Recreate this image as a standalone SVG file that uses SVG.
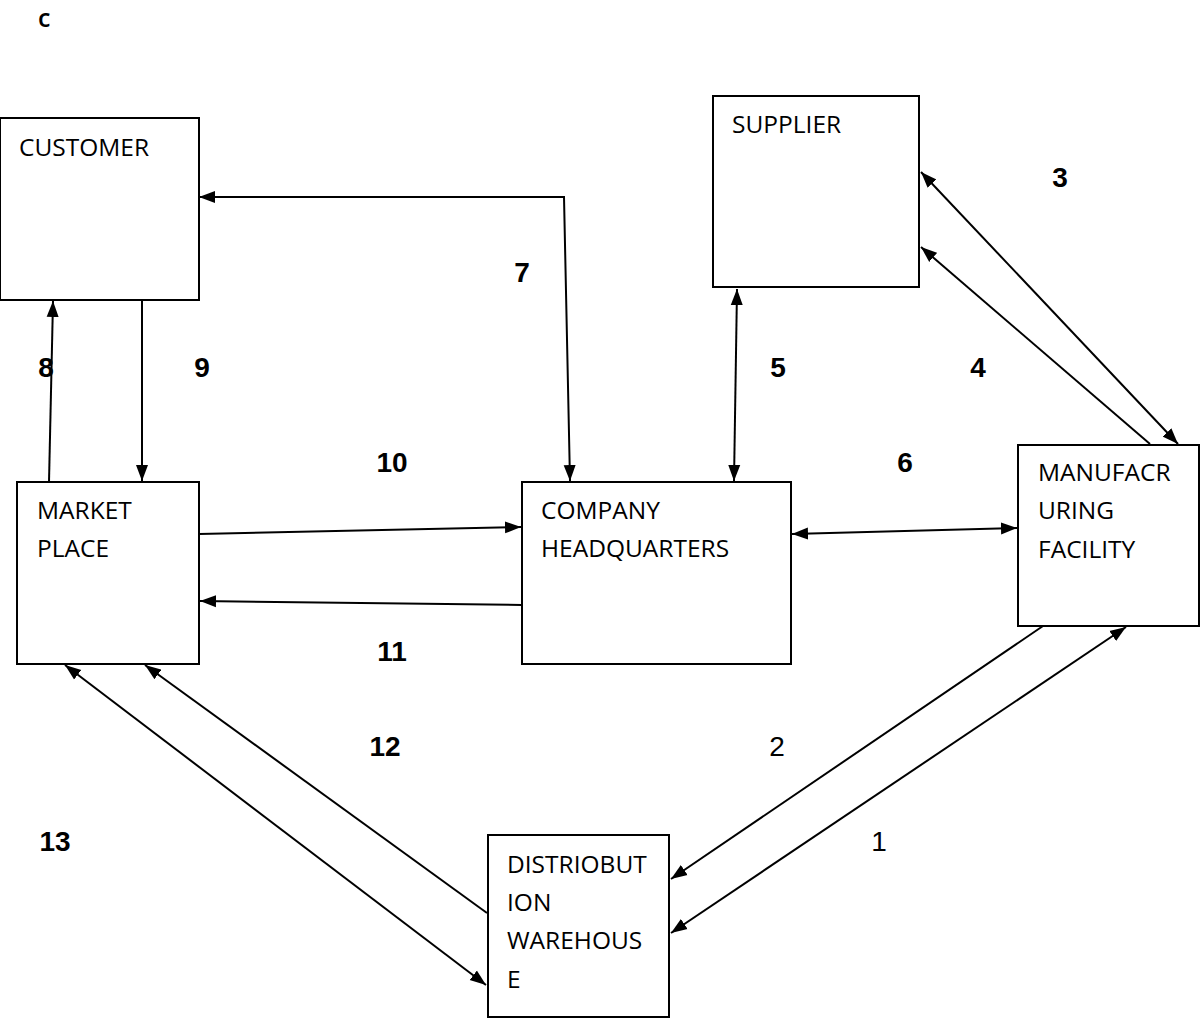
<svg xmlns="http://www.w3.org/2000/svg" width="1200" height="1018" viewBox="0 0 1200 1018">
<style>
.box{fill:#fff;stroke:#000;stroke-width:2}
.lbl{font-family:"Open Sans","Liberation Sans",sans-serif;font-size:24.5px;fill:#000}
.num{font-family:"Liberation Sans",Arial,sans-serif;font-size:28px;font-weight:bold;fill:#000;text-anchor:middle}
.numr{font-family:"Liberation Sans",Arial,sans-serif;font-size:28px;fill:#000;text-anchor:middle}
.c{fill:none;stroke:#000;stroke-width:2}
.a{marker-end:url(#ah)}
.b{marker-start:url(#ah);marker-end:url(#ah)}
</style>
<defs>
<marker id="ah" markerUnits="userSpaceOnUse" markerWidth="17" markerHeight="13" refX="16" refY="6" orient="auto-start-reverse" viewBox="0 0 17 12">
<path d="M0,0 L16,6 L0,12 z" fill="#000"/>
</marker>
</defs>
<rect width="1200" height="1018" fill="#fff"/>
<text x="38" y="27" style="font-family:'Open Sans','Liberation Sans',sans-serif;font-size:25px;font-weight:600">c</text>

<g id="connectors">
<path id="e7" class="c b" d="M199,197 L564,197 L570,481"/>
<path id="e8" class="c a" d="M49,482 L53,301"/>
<path id="e9" class="c a" d="M142,301 L142,481"/>
<path id="e5" class="c b" d="M737,289 L734,481"/>
<path id="e3" class="c b" d="M921,172 L1178,444"/>
<path id="e4" class="c a" d="M1150,444 L921,247"/>
<path id="e6" class="c b" d="M792,534 L1017,528"/>
<path id="e10" class="c a" d="M199,534 L521,527"/>
<path id="e11" class="c a" d="M522,605 L200,601"/>
<path id="e12" class="c a" d="M487,913 L145,665"/>
<path id="e13" class="c b" d="M65,665 L486,985"/>
<path id="e2" class="c a" d="M1043,626 L671,879"/>
<path id="e1" class="c b" d="M671,933 L1126,627"/>
</g>

<g id="customer"><rect class="box" x="0" y="118" width="199" height="182"/><text class="lbl" x="19" y="156">CUSTOMER</text></g>
<g id="supplier"><rect class="box" x="713" y="96" width="206" height="191"/><text class="lbl" x="732" y="133">SUPPLIER</text></g>
<g id="marketplace"><rect class="box" x="17" y="482" width="182" height="182"/><text class="lbl" x="37" y="519">MARKET</text><text class="lbl" x="37" y="557">PLACE</text></g>
<g id="headquarters"><rect class="box" x="522" y="482" width="269" height="182"/><text class="lbl" x="541" y="519">COMPANY</text><text class="lbl" x="541" y="557">HEADQUARTERS</text></g>
<g id="manufacturing"><rect class="box" x="1018" y="445" width="181" height="181"/><text class="lbl" x="1038" y="481">MANUFACR</text><text class="lbl" x="1038" y="519">URING</text><text class="lbl" x="1038" y="558">FACILITY</text></g>
<g id="warehouse"><rect class="box" x="488" y="835" width="181" height="182"/><text class="lbl" x="507" y="873">DISTRIOBUT</text><text class="lbl" x="507" y="911">ION</text><text class="lbl" x="507" y="949">WAREHOUS</text><text class="lbl" x="507" y="988">E</text></g>

<g id="labels">
<text class="num" x="1060" y="187">3</text>
<text class="num" x="522" y="282">7</text>
<text class="num" x="46" y="377">8</text>
<text class="num" x="202" y="377">9</text>
<text class="num" x="778" y="377">5</text>
<text class="num" x="978" y="377">4</text>
<text class="num" x="392" y="472">10</text>
<text class="num" x="905" y="472">6</text>
<text class="num" x="392" y="661">11</text>
<text class="num" x="385" y="756">12</text>
<text class="numr" x="777" y="756">2</text>
<text class="num" x="55" y="851">13</text>
<text class="numr" x="879" y="851">1</text>
</g>
</svg>
